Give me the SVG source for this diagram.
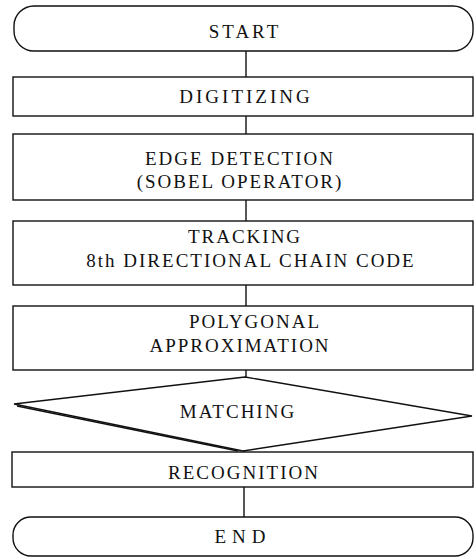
<svg xmlns="http://www.w3.org/2000/svg" width="475" height="559" viewBox="0 0 475 559">
<style>
.s{fill:#fff;stroke:#111;stroke-width:1.4}
.c{fill:none;stroke:#111;stroke-width:1.4}
text{font-family:"Liberation Serif","Times New Roman",serif;font-size:19px;letter-spacing:2px;fill:#111;text-anchor:middle}
</style>
<rect width="475" height="559" fill="#fff"/>
<g id="connectors">
<line class="c" x1="246" y1="51" x2="246" y2="77"/>
<line class="c" x1="246" y1="116" x2="246" y2="134"/>
<line class="c" x1="246" y1="200" x2="246" y2="221"/>
<line class="c" x1="246" y1="285" x2="246" y2="306"/>
<line class="c" x1="246" y1="370" x2="246" y2="377"/>
<line class="c" x1="244" y1="450" x2="244" y2="452"/>
<line class="c" x1="244" y1="487" x2="244" y2="517"/>
</g>
<g id="start">
<rect class="s" x="14" y="6" width="459" height="45" rx="20" ry="20"/>
<text x="245" y="38" style="letter-spacing:3px">START</text>
</g>
<g id="digitizing">
<rect class="s" x="13" y="77" width="460" height="39"/>
<text x="246" y="103" style="letter-spacing:3px">DIGITIZING</text>
</g>
<g id="edge">
<rect class="s" x="13" y="134" width="460" height="66"/>
<text x="240" y="165">EDGE DETECTION</text>
<text x="240" y="188">(SOBEL OPERATOR)</text>
</g>
<g id="tracking">
<rect class="s" x="13" y="221" width="460" height="64"/>
<text x="245" y="243">TRACKING</text>
<text x="251" y="267">8th DIRECTIONAL CHAIN CODE</text>
</g>
<g id="polygonal">
<rect class="s" x="13" y="306" width="460" height="64"/>
<text x="255" y="328">POLYGONAL</text>
<text x="240" y="352">APPROXIMATION</text>
</g>
<g id="matching">
<polygon class="s" points="245,377 472,416 243,451 14,404"/>
<line class="c" x1="17" y1="406" x2="238" y2="451" stroke-width="1"/>
<text x="238" y="418">MATCHING</text>
</g>
<g id="recognition">
<rect class="s" x="12" y="452" width="461" height="35"/>
<text x="244" y="479">RECOGNITION</text>
</g>
<g id="end">
<rect class="s" x="13" y="517" width="460" height="39" rx="18" ry="18"/>
<text x="243" y="543" style="letter-spacing:6px">END</text>
</g>
</svg>
